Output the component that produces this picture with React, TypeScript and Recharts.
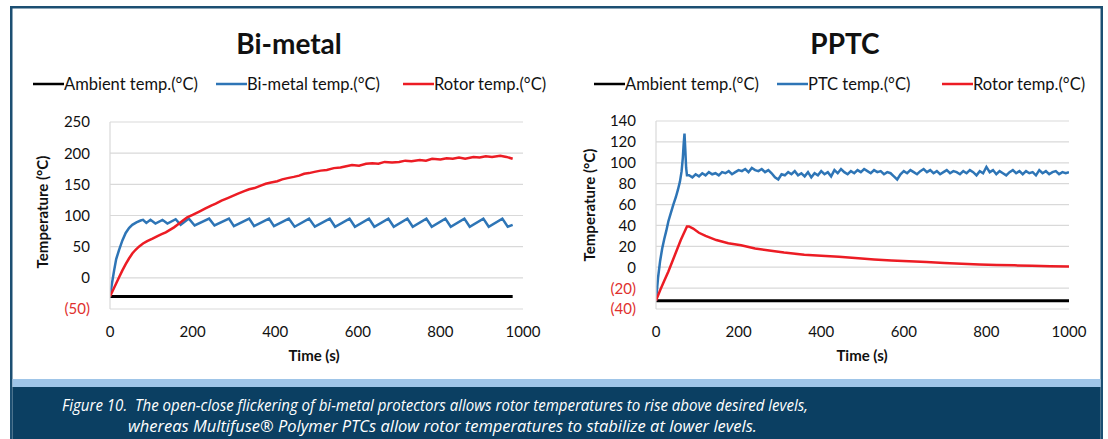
import React from "react";
import { CartesianGrid, Line, LineChart, XAxis, YAxis } from "recharts";

const X_TICKS = [0, 200, 400, 600, 800, 1000];
const BI_Y_TICKS = [-50, 0, 50, 100, 150, 200, 250];
const PPTC_Y_TICKS = [-40, -20, 0, 20, 40, 60, 80, 100, 120, 140];

// [time (s), temperature (°C)]
const BI_AMBIENT: [number, number][] = [
  [0, -30], [200, -30], [400, -30], [600, -30], [800, -30], [975, -30],
];

const BI_METAL: [number, number][] = [
  [0, -30], [5, -8], [10, 12], [15, 30], [22, 45], [30, 60], [38, 72],
  [46, 80], [54, 85], [64, 89], [74, 92], [80, 93], [88, 88], [98, 93],
  [110, 87], [127, 93], [139, 87], [159, 94], [171, 85], [191, 95],
  [205, 84], [240, 95], [253, 84], [288, 95], [300, 83], [337, 95],
  [349, 83], [385, 95], [397, 83], [433, 95], [447, 82], [482, 95],
  [496, 82], [532, 95], [545, 82], [580, 95], [593, 82], [627, 95],
  [640, 82], [674, 95], [687, 82], [720, 95], [733, 82], [766, 95],
  [779, 82], [812, 95], [825, 82], [858, 95], [871, 82], [904, 95],
  [917, 82], [950, 95], [963, 82], [975, 85],
];

const BI_ROTOR: [number, number][] = [
  [0, -30], [10, -16], [22, 1], [30, 12], [38, 22], [46, 31], [54, 39],
  [62, 45], [70, 50], [80, 55], [90, 59], [103, 63], [115, 67], [125, 70],
  [135, 73], [145, 77], [155, 81], [165, 86], [175, 91], [187, 97],
  [200, 101], [215, 106], [230, 111], [245, 116], [256, 119], [270, 124],
  [285, 128], [296, 131], [310, 135], [325, 139], [337, 142], [350, 144],
  [365, 148], [377, 151], [390, 153], [405, 155], [417, 158], [430, 160],
  [445, 162], [458, 164], [470, 167], [482, 168], [495, 170], [510, 172],
  [525, 173], [542, 176], [558, 177], [572, 179], [586, 181], [603, 180],
  [620, 183], [635, 184], [650, 183], [665, 186], [683, 185], [700, 186],
  [715, 188], [730, 187], [750, 189], [765, 188], [780, 191], [800, 190],
  [815, 192], [830, 191], [845, 193], [860, 191], [880, 194], [895, 193],
  [910, 195], [925, 194], [945, 196], [960, 194], [975, 191],
];

const PPTC_AMBIENT: [number, number][] = [
  [0, -32], [250, -32], [500, -32], [750, -32], [1000, -32],
];

const PPTC_PTC: [number, number][] = [
  [0, -32], [5, -10], [10, 6], [15, 18], [20, 27], [25, 35], [30, 44],
  [36, 52], [42, 60], [48, 67], [53, 74], [58, 82], [62, 92], [65, 105],
  [67, 118], [69, 128], [71, 112], [73, 95], [75, 88],
  [80, 88], [88, 86], [96, 89], [104, 87], [112, 90], [120, 88], [128, 91],
  [136, 89], [144, 90], [152, 88], [160, 91], [168, 90], [176, 92],
  [184, 89], [192, 91], [200, 93], [208, 92], [216, 94], [224, 91],
  [232, 95], [240, 93], [248, 92], [256, 94], [264, 91], [272, 93],
  [280, 90], [288, 86], [296, 84], [304, 89], [312, 88], [320, 91],
  [328, 89], [336, 92], [344, 88], [352, 90], [360, 87], [368, 91],
  [376, 86], [384, 90], [392, 88], [400, 92], [408, 89], [416, 91],
  [424, 87], [432, 93], [440, 90], [448, 94], [456, 91], [464, 89],
  [472, 92], [480, 90], [488, 93], [496, 91], [504, 94], [512, 92],
  [520, 90], [528, 93], [536, 91], [544, 92], [552, 89], [560, 91],
  [568, 90], [576, 87], [584, 84], [592, 89], [600, 92], [608, 90],
  [616, 93], [624, 91], [632, 89], [640, 92], [648, 94], [656, 91],
  [664, 93], [672, 90], [680, 92], [688, 89], [696, 91], [704, 93],
  [712, 90], [720, 92], [728, 91], [736, 89], [744, 92], [752, 90],
  [760, 93], [768, 91], [776, 88], [784, 92], [792, 90], [800, 96],
  [808, 91], [816, 93], [824, 89], [832, 92], [840, 90], [848, 88],
  [856, 91], [864, 93], [872, 90], [880, 92], [888, 89], [896, 92],
  [904, 90], [912, 91], [920, 88], [928, 93], [936, 90], [944, 92],
  [952, 89], [960, 91], [968, 92], [976, 89], [984, 91], [992, 90],
  [1000, 91],
];

const PPTC_ROTOR: [number, number][] = [
  [0, -32], [10, -22], [20, -13], [30, -4], [40, 6], [50, 16], [60, 26],
  [68, 33], [75, 39], [80, 39], [90, 37], [104, 33], [120, 30], [146, 26],
  [175, 23], [206, 21], [240, 18], [274, 16], [310, 14], [359, 12],
  [400, 11], [443, 10], [490, 8.5], [528, 7.5], [570, 6.5], [613, 5.7],
  [655, 5], [698, 4], [740, 3.3], [783, 2.6], [825, 2.2], [868, 1.8],
  [910, 1.3], [955, 0.9], [1000, 0.6],
];

const FONT = "Lato, 'Open Sans', sans-serif";
const BLACK = "#000000";
const BLUE = "#2e75b6";
const RED = "#ec1c24";
const GRID = "#d9d9d9";

const rows = (pairs: [number, number][]) => pairs.map(([t, v]) => ({ t, v }));

function YTick(props: any) {
  const { x, y, payload } = props;
  const v = payload.value as number;
  return (
    <text
      x={x}
      y={y}
      dy="0.36em"
      textAnchor="end"
      fontSize={15}
      fontFamily={FONT}
      fill={v < 0 ? "#e0302e" : "#111"}
    >
      {v < 0 ? `(${-v})` : v}
    </text>
  );
}

type Series = { name: string; color: string; width: number; data: [number, number][] };

function TempChart({
  left,
  plotTop,
  yDomain,
  yTicks,
  series,
}: {
  left: number;
  plotTop: number;
  yDomain: [number, number];
  yTicks: number[];
  series: Series[];
}) {
  return (
    <div style={{ position: "absolute", left, top: 0 }}>
      <LineChart width={550} height={375} margin={{ top: plotTop, right: 27, bottom: 36, left: 0 }}>
        <CartesianGrid vertical={false} stroke={GRID} strokeWidth={1.2} />
        <XAxis
          type="number"
          dataKey="t"
          domain={[0, 1000]}
          ticks={X_TICKS}
          interval={0}
          allowDataOverflow
          axisLine={false}
          tickLine={false}
          tickSize={0}
          tickMargin={17}
          height={30}
          tick={{ fontSize: 15, fontFamily: FONT, fill: "#111" }}
        />
        <YAxis
          type="number"
          domain={yDomain}
          ticks={yTicks}
          interval={0}
          allowDataOverflow
          width={110}
          axisLine={{ stroke: GRID, strokeWidth: 1.2 }}
          tickLine={false}
          tickSize={0}
          tickMargin={20}
          tick={<YTick />}
        />
        {series.map((s) => (
          <Line
            key={s.name}
            data={rows(s.data)}
            dataKey="v"
            name={s.name}
            type="linear"
            stroke={s.color}
            strokeWidth={s.width}
            dot={false}
            activeDot={false}
            isAnimationActive={false}
          />
        ))}
      </LineChart>
    </div>
  );
}

function LegendRow({ items }: { items: { x: number; label: string; color: string }[] }) {
  return (
    <g>
      {items.map((it) => (
        <g key={it.label}>
          <line x1={it.x} x2={it.x + 31} y1={84} y2={84} stroke={it.color} strokeWidth={2.5} />
          <text x={it.x + 31} y={89.5} fontSize={16.5} fontFamily={FONT} fill="#111">
            {it.label}
          </text>
        </g>
      ))}
    </g>
  );
}

export default function App() {
  const biSeries: Series[] = [
    { name: "Ambient temp.(°C)", color: BLACK, width: 3, data: BI_AMBIENT },
    { name: "Bi-metal temp.(°C)", color: BLUE, width: 2.5, data: BI_METAL },
    { name: "Rotor temp.(°C)", color: RED, width: 2.5, data: BI_ROTOR },
  ];
  const pptcSeries: Series[] = [
    { name: "Ambient temp.(°C)", color: BLACK, width: 3, data: PPTC_AMBIENT },
    { name: "PTC temp.(°C)", color: BLUE, width: 2.5, data: PPTC_PTC },
    { name: "Rotor temp.(°C)", color: RED, width: 2.5, data: PPTC_ROTOR },
  ];

  return (
    <div style={{ position: "absolute", left: 0, top: 0, width: 1108, height: 439, background: "#fff", overflow: "hidden" }}>
      <svg width={1108} height={439} style={{ position: "absolute", left: 0, top: 0 }}>
        {/* frame */}
        <rect x={11.25} y={7.25} width={1090.5} height={440} fill="#fff" stroke="#1c4f72" strokeWidth={2.5} />
        <rect x={12.5} y={379} width={1088} height={8} fill="#9fc5e8" />
        <rect x={12.5} y={387} width={1088} height={60} fill="#0b3f62" />

        {/* titles */}
        <text x={289} y={54} textAnchor="middle" fontSize={28} fontWeight={700} fontFamily={FONT} fill="#111">
          Bi-metal
        </text>
        <text x={845} y={54} textAnchor="middle" fontSize={28} fontWeight={700} fontFamily={FONT} fill="#111">
          PPTC
        </text>

        <LegendRow
          items={[
            { x: 33, label: "Ambient temp.(°C)", color: BLACK },
            { x: 216, label: "Bi-metal temp.(°C)", color: BLUE },
            { x: 403, label: "Rotor temp.(°C)", color: RED },
          ]}
        />
        <LegendRow
          items={[
            { x: 594, label: "Ambient temp.(°C)", color: BLACK },
            { x: 777, label: "PTC temp.(°C)", color: BLUE },
            { x: 942, label: "Rotor temp.(°C)", color: RED },
          ]}
        />

        {/* axis titles */}
        <text
          x={42}
          y={212}
          transform="rotate(-90 42 212)"
          textAnchor="middle"
          dominantBaseline="central"
          fontSize={15}
          fontWeight={700}
          fontFamily={FONT}
          fill="#111"
        >
          Temperature (°C)
        </text>
        <text
          x={589}
          y={205}
          transform="rotate(-90 589 205)"
          textAnchor="middle"
          dominantBaseline="central"
          fontSize={15}
          fontWeight={700}
          fontFamily={FONT}
          fill="#111"
        >
          Temperature (°C)
        </text>
        <text x={314} y={361} textAnchor="middle" fontSize={15} fontWeight={700} fontFamily={FONT} fill="#111">
          Time (s)
        </text>
        <text x={862} y={361} textAnchor="middle" fontSize={15} fontWeight={700} fontFamily={FONT} fill="#111">
          Time (s)
        </text>

        {/* caption */}
        <text
          x={62}
          y={411}
          fontSize={15.5}
          fontStyle="italic"
          fontFamily="'Open Sans', sans-serif"
          fill="#fff"
          textLength={746}
          lengthAdjust="spacingAndGlyphs"
        >
          {"Figure 10.\u00a0 The open-close flickering of bi-metal protectors allows rotor temperatures to rise above desired levels,"}
        </text>
        <text
          x={128}
          y={432}
          fontSize={15.5}
          fontStyle="italic"
          fontFamily="'Open Sans', sans-serif"
          fill="#fff"
          textLength={629}
          lengthAdjust="spacingAndGlyphs"
        >
          whereas Multifuse® Polymer PTCs allow rotor temperatures to stabilize at lower levels.
        </text>
      </svg>

      <TempChart left={0} plotTop={122} yDomain={[-50, 250]} yTicks={BI_Y_TICKS} series={biSeries} />
      <TempChart left={546} plotTop={121} yDomain={[-40, 140]} yTicks={PPTC_Y_TICKS} series={pptcSeries} />
    </div>
  );
}
